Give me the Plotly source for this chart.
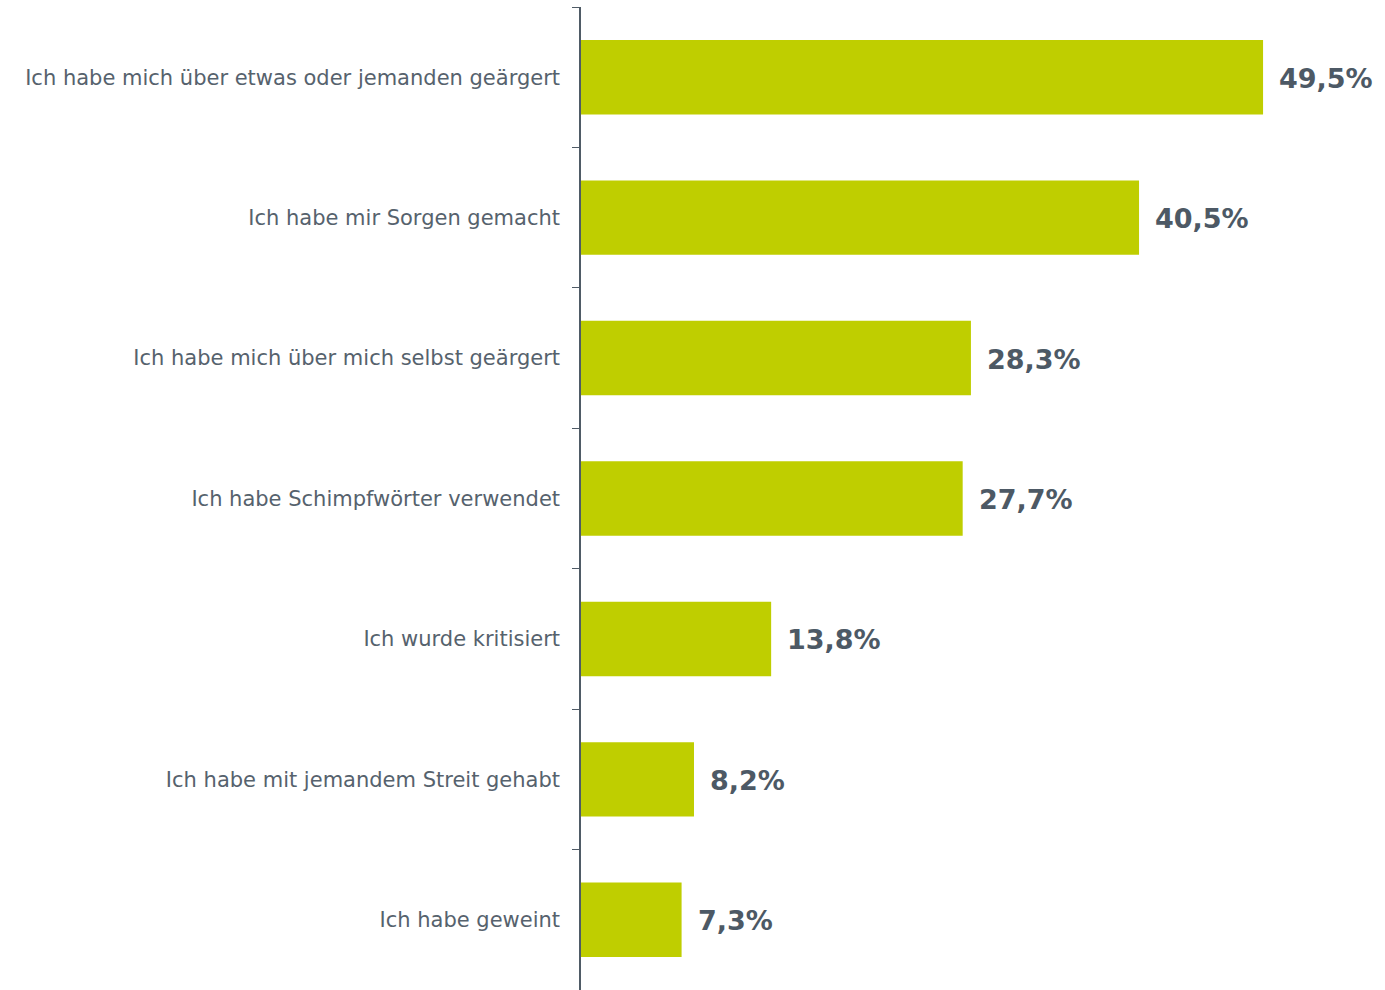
import plotly.graph_objects as go

# Survey answers (top to bottom) and their shares in percent
categories = [
    "Ich habe mich über etwas oder jemanden geärgert",
    "Ich habe mir Sorgen gemacht",
    "Ich habe mich über mich selbst geärgert",
    "Ich habe Schimpfwörter verwendet",
    "Ich wurde kritisiert",
    "Ich habe mit jemandem Streit gehabt",
    "Ich habe geweint",
]
values = [49.5, 40.5, 28.3, 27.7, 13.8, 8.2, 7.3]
value_labels = [f"{v:.1f}%".replace(".", ",") for v in values]

BAR = "#BFCE00"
AXIS = "#4F5B66"
LABEL = "#56626D"
VALUE = "#4D5965"

fig = go.Figure(
    go.Bar(
        x=values,
        y=categories,
        orientation="h",
        marker=dict(color=BAR, line=dict(width=0)),
        width=0.53,
        hoverinfo="skip",
    )
)

# Bold value labels to the right of each bar
for cat, v, lab in zip(categories, values, value_labels):
    fig.add_annotation(
        x=v, y=cat, text=f"<b>{lab}</b>", showarrow=False,
        xanchor="left", yanchor="middle", xshift=14, yshift=-1,
        font=dict(family="DejaVu Sans", size=27, color=VALUE),
    )

fig.update_layout(
    width=1385, height=990,
    margin=dict(l=581, r=0, t=7, b=0),
    paper_bgcolor="white", plot_bgcolor="white",
    showlegend=False,
    bargap=0.47,
    font=dict(family="DejaVu Sans", size=21, color=LABEL),
)
fig.update_xaxes(
    range=[0, 58.35], visible=False, showgrid=False, zeroline=False,
)
fig.update_yaxes(
    autorange="reversed",
    showline=True, linecolor=AXIS, linewidth=1.5,
    ticks="outside", tickson="boundaries", ticklen=7, tickcolor=AXIS, tickwidth=1,
    ticklabelstandoff=15,
    showgrid=False, zeroline=False,
    tickfont=dict(family="DejaVu Sans", size=21, color=LABEL),
)

fig.write_html("out.html")
